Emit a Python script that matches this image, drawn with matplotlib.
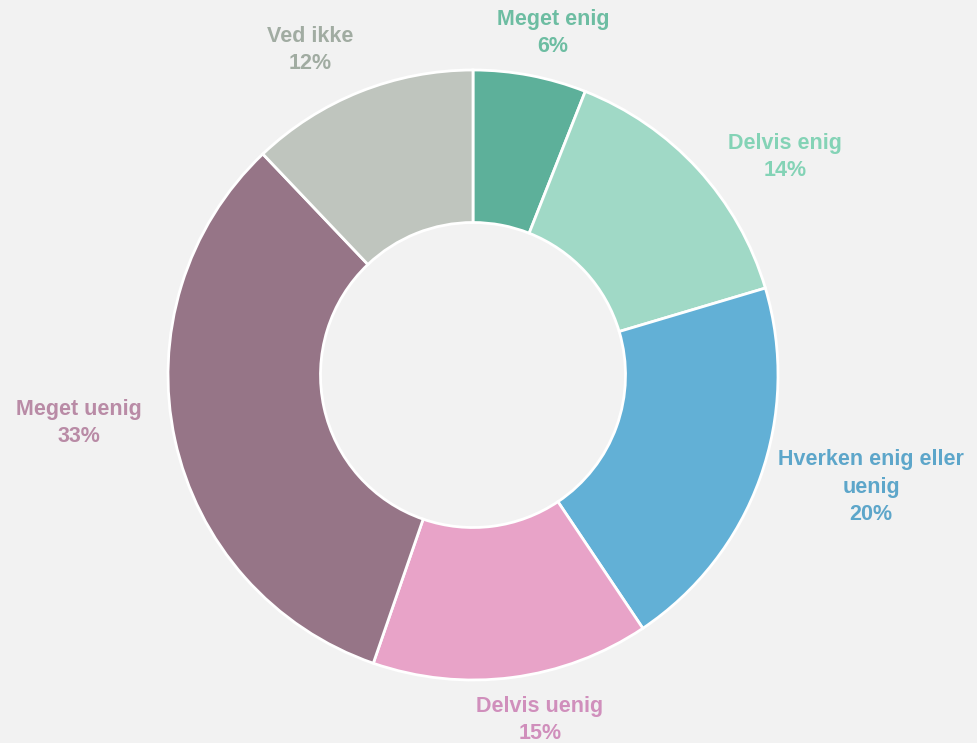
import matplotlib
matplotlib.use("Agg")
import matplotlib.pyplot as plt

categories = ["Meget enig", "Delvis enig", "Hverken enig eller\nuenig", "Delvis uenig", "Meget uenig", "Ved ikke"]
values = [6.0, 14.4, 20.2, 14.7, 32.6, 12.1]
wedge_colors = ["#5DB09A", "#A0D9C6", "#62B0D6", "#E8A3C8", "#967587", "#BFC5BE"]
label_colors = ["#6DBDA2", "#84D3B6", "#5DA6CA", "#D08FBC", "#B98BA6", "#A1ACA2"]
# label centre positions in pixel coordinates (x from left, y from top)
label_pos = [(553, 33), (785, 157), (871, 487), (540, 720), (79, 423), (310, 50)]

W, H = 977, 743
fig = plt.figure(figsize=(W / 100, H / 100), dpi=100, facecolor="#F2F2F2")
ax = fig.add_axes([0, 0, 1, 1])
ax.set_facecolor("#F2F2F2")

cx, cy, R = 473, H - 375, 305
ax.pie(values, colors=wedge_colors, startangle=90, counterclock=False,
       radius=R, center=(cx, cy), frame=True,
       wedgeprops=dict(width=R * 0.5, edgecolor="white", linewidth=2))
ax.set_xlim(0, W)
ax.set_ylim(0, H)
ax.set_aspect("equal")
ax.axis("off")

for cat, v, col, (x, y) in zip(categories, values, label_colors, label_pos):
    ax.text(x, H - y, f"{cat}\n{round(v)}%", ha="center", va="center", color=col,
            fontsize=15.5, fontweight="bold", family="Liberation Sans",
            linespacing=1.38)

fig.savefig("out.png", dpi=100, facecolor=fig.get_facecolor())
